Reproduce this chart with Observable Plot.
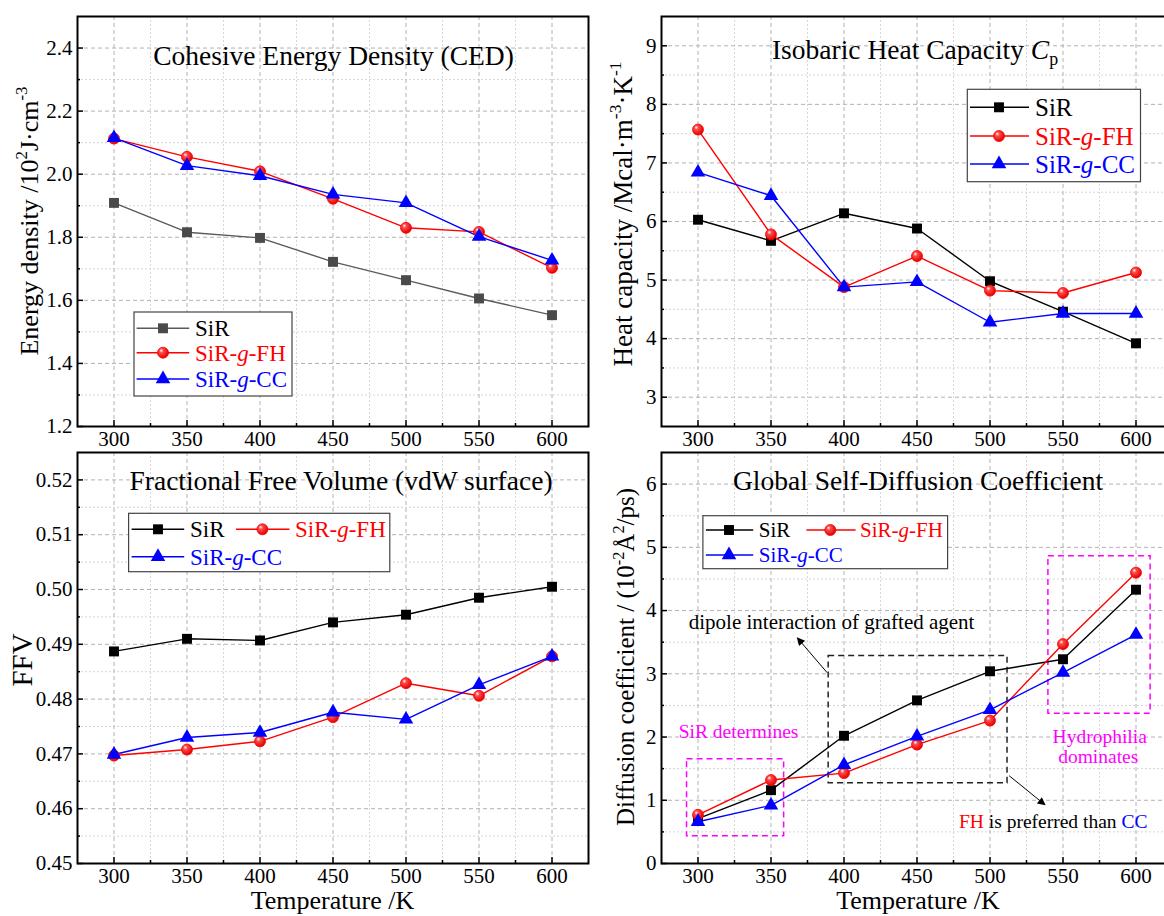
<!DOCTYPE html>
<html><head><meta charset="utf-8">
<script src="https://cdn.jsdelivr.net/npm/d3@7"></script>
<script src="https://cdn.jsdelivr.net/npm/@observablehq/plot@0.6"></script>
<style>
html,body{margin:0;padding:0;background:#fff;overflow:hidden;}
#root{position:relative;width:1164px;height:916px;overflow:hidden;background:#fff;}
</style></head><body>
<svg width="0" height="0" style="position:absolute"><defs>
<radialGradient id="shine" cx="0.4" cy="0.38" r="0.62" fx="0.34" fy="0.3">
<stop offset="0" stop-color="#ffffff"/><stop offset="0.3" stop-color="#ff4a4a"/><stop offset="1" stop-color="#e00000"/>
</radialGradient>
<marker id="ahead" viewBox="0 0 10 10" refX="9" refY="5" markerWidth="10" markerHeight="8" markerUnits="userSpaceOnUse" orient="auto">
<path d="M0,0 L10,5 L0,10 z" fill="#000"/></marker>
</defs></svg>
<div id="root"></div>
<script>
// ---------------- data ----------------
const temps = [300, 350, 400, 450, 500, 550, 600];
const seriesNames = ["SiR", "SiR-g-FH", "SiR-g-CC"];
const xTicks = [300, 350, 400, 450, 500, 550, 600];
const xMinor = [325, 375, 425, 475, 525, 575];

const cedSiR = [1.909, 1.816, 1.798, 1.722, 1.664, 1.606, 1.553];
const cedFH  = [2.113, 2.055, 2.009, 1.922, 1.830, 1.817, 1.703];
const cedCC  = [2.115, 2.027, 1.995, 1.936, 1.909, 1.802, 1.727];
const cedTicks = [1.2, 1.4, 1.6, 1.8, 2.0, 2.2, 2.4];
const cedMinor = [1.3, 1.5, 1.7, 1.9, 2.1, 2.3];

const cpSiR = [6.03, 5.67, 6.14, 5.88, 4.98, 4.46, 3.92];
const cpFH  = [7.57, 5.78, 4.88, 5.41, 4.82, 4.78, 5.13];
const cpCC  = [6.84, 6.44, 4.88, 4.97, 4.28, 4.43, 4.43];
const cpTicks = [3, 4, 5, 6, 7, 8, 9];
const cpMinor = [3.5, 4.5, 5.5, 6.5, 7.5, 8.5];

const ffvSiR = [0.4887, 0.4910, 0.4907, 0.4940, 0.4954, 0.4985, 0.5005];
const ffvFH  = [0.4697, 0.4708, 0.4723, 0.4767, 0.4829, 0.4806, 0.4878];
const ffvCC  = [0.4699, 0.4730, 0.4739, 0.4776, 0.4763, 0.4826, 0.4878];
const ffvTicks = [0.45, 0.46, 0.47, 0.48, 0.49, 0.50, 0.51, 0.52];
const ffvMinor = [0.455, 0.465, 0.475, 0.485, 0.495, 0.505, 0.515];

const difSiR = [0.71, 1.16, 2.02, 2.58, 3.04, 3.23, 4.33];
const difFH  = [0.77, 1.32, 1.43, 1.88, 2.26, 3.47, 4.60];
const difCC  = [0.66, 0.92, 1.56, 2.01, 2.43, 3.02, 3.62];
const difTicks = [0, 1, 2, 3, 4, 5, 6];
const difMinor = [0.5, 1.5, 2.5, 3.5, 4.5, 5.5];

// annotation regions (data coordinates of the diffusion panel)
const magentaBoxes = [{x1: 292.5, x2: 359, y1: 0.43, y2: 1.65}, {x1: 540, x2: 610, y1: 2.37, y2: 4.86}];
const blackBoxes = [{x1: 389.5, x2: 512, y1: 1.27, y2: 3.28}];
const arrows = [{x1: 388.8, y1: 3.01, x2: 368.4, y2: 3.56}, {x1: 513.5, y1: 1.38, x2: 538, y2: 0.92}];

// ---------------- helpers ----------------
const F = '"Liberation Serif","Times New Roman",serif';
const root = document.getElementById("root");
const rows = arr => temps.map((t, i) => ({T: t, v: arr[i]}));
const symbols = ["square", "circle", "triangle"];
const symR = [5.6, 5.5, 5.4];

function rich(svg, x, y, parts, {size, anchor = "middle", rotate = 0, fill = "#000", baseline = null} = {}) {
  const t = d3.select(svg).append("text")
    .attr("transform", `translate(${x},${y}) rotate(${rotate})`)
    .attr("text-anchor", anchor).attr("font-family", F).attr("font-size", size).attr("fill", fill);
  if (baseline) t.attr("dominant-baseline", baseline);
  let shift = 0;
  const list = typeof parts === "string" ? [{t: parts}] : parts;
  for (const p of list) {
    const ts = t.append("tspan").text(p.t);
    const target = p.sup ? -0.4 * size : p.sub ? 0.25 * size : 0;
    if (target !== shift) { ts.attr("dy", target - shift); shift = target; }
    if (p.sup || p.sub) ts.attr("font-size", size * 0.65);
    if (p.i) ts.attr("font-style", "italic");
    if (p.c) ts.attr("fill", p.c);
  }
  return t;
}

function labelParts(k) {
  if (k === 0) return [{t: "SiR"}];
  return [{t: "SiR-"}, {t: "g", i: true}, {t: k === 1 ? "-FH" : "-CC"}];
}

function makePanel(cfg) {
  const {left, top, height, mt, mb, yDomain, yTicks, yMinor, yFmt, data, colors, extra = []} = cfg;
  const gridMinor = {stroke: "#d6d6d6", strokeDasharray: "2,2", strokeOpacity: 1, strokeWidth: 1};
  const gridMajor = {stroke: "#b2b2b2", strokeDasharray: "4,3", strokeOpacity: 1, strokeWidth: 1};
  const marks = [
    Plot.gridX(xMinor, gridMinor),
    Plot.gridY(yMinor, gridMinor),
    Plot.gridX(xTicks, gridMajor),
    Plot.gridY(yTicks, gridMajor),
    ...extra
  ];
  data.forEach((arr, k) => marks.push(Plot.line(rows(arr), {x: "T", y: "v", stroke: colors[k].line, strokeWidth: 1.4})));
  data.forEach((arr, k) => marks.push(Plot.dot(rows(arr), {
    x: "T", y: "v", symbol: symbols[k], r: symR[k], fill: colors[k].fill,
    stroke: colors[k].stroke, strokeWidth: 0.8
  })));
  marks.push(
    Plot.axisX(xTicks, {tickSize: -6, fill: "none", strokeWidth: 1.5, label: null}),
    Plot.axisX(xMinor, {tickSize: -3, fill: "none", strokeWidth: 1.5, label: null}),
    Plot.axisX(xTicks, {tickSize: 0, tickPadding: 5, fontSize: 21, label: null}),
    Plot.axisY(yTicks, {tickSize: -6, fill: "none", strokeWidth: 1.5, label: null}),
    Plot.axisY(yMinor, {tickSize: -3, fill: "none", strokeWidth: 1.5, label: null}),
    Plot.axisY(yTicks, {tickSize: 0, tickPadding: 5, fontSize: 21, tickFormat: yFmt, label: null}),
    Plot.frame({stroke: "#000", strokeWidth: 2})
  );
  const svg = Plot.plot({
    width: 600, height, marginLeft: 77, marginRight: 12, marginTop: mt, marginBottom: mb,
    x: {domain: [275, 625]}, y: {domain: yDomain},
    style: {background: "transparent", overflow: "visible", fontFamily: F, color: "#000"},
    marks
  });
  svg.style.position = "absolute";
  svg.style.left = left + "px";
  svg.style.top = top + "px";
  root.appendChild(svg);
  return svg;
}

function drawLegend(svg, box, entries, colors, size) {
  const g = d3.select(svg).append("g");
  g.append("rect").attr("x", box[0]).attr("y", box[1]).attr("width", box[2] - box[0]).attr("height", box[3] - box[1])
    .attr("fill", "#fff").attr("stroke", "#444").attr("stroke-width", 1.2);
  const types = [d3.symbolSquare, d3.symbolCircle, d3.symbolTriangle];
  for (const e of entries) {
    const k = e.k;
    g.append("line").attr("x1", e.l1).attr("x2", e.l2).attr("y1", e.y).attr("y2", e.y)
      .attr("stroke", colors[k].line).attr("stroke-width", 1.4);
    g.append("path").attr("d", d3.symbol().type(types[k]).size(Math.PI * symR[k] * symR[k])())
      .attr("transform", `translate(${e.s},${e.y})`)
      .attr("fill", colors[k].fill).attr("stroke", colors[k].stroke === "none" ? null : colors[k].stroke)
      .attr("stroke-width", 0.8);
    rich(svg, e.t, e.y, labelParts(k), {size, anchor: "start", fill: colors[k].text, baseline: "central"});
  }
}

const stdColors = [
  {line: "#000", fill: "#000", stroke: "none", text: "#000"},
  {line: "#ff0000", fill: "url(#shine)", stroke: "#ff0000", text: "#ff0000"},
  {line: "#0000ff", fill: "#0000ff", stroke: "none", text: "#0000ff"}
];
const cedColors = [{line: "#5a5a5a", fill: "#4a4a4a", stroke: "none", text: "#000"}, stdColors[1], stdColors[2]];

// ---------------- panel 1: CED ----------------
const p1 = makePanel({left: 0, top: 0, height: 452, mt: 16, mb: 26, yDomain: [1.2, 2.5],
  yTicks: cedTicks, yMinor: cedMinor, yFmt: d3.format(".1f"), data: [cedSiR, cedFH, cedCC], colors: cedColors});
rich(p1, 333.5, 65, "Cohesive Energy Density (CED)", {size: 27.5});
rich(p1, 37.5, 221, [{t: "Energy density /10"}, {t: "2", sup: true}, {t: "J·cm"}, {t: "-3", sup: true}], {size: 26, rotate: -90});
drawLegend(p1, [134, 312, 292, 396], [
  {k: 0, y: 328.3, l1: 136.6, l2: 189.2, s: 163, t: 195},
  {k: 1, y: 352.7, l1: 136.6, l2: 189.2, s: 163, t: 195},
  {k: 2, y: 379, l1: 136.6, l2: 189.2, s: 163, t: 195}], cedColors, 23);

// ---------------- panel 2: Cp ----------------
const p2 = makePanel({left: 584, top: 0, height: 452, mt: 16, mb: 26, yDomain: [2.5, 9.5],
  yTicks: cpTicks, yMinor: cpMinor, yFmt: d3.format("d"), data: [cpSiR, cpFH, cpCC], colors: stdColors});
rich(p2, 331, 58.5, [{t: "Isobaric Heat Capacity "}, {t: "C", i: true}, {t: "p", sub: true}], {size: 27.5});
rich(p2, 48, 214, [{t: "Heat capacity /Mcal·m"}, {t: "-3", sup: true}, {t: "·K"}, {t: "-1", sup: true}], {size: 27, rotate: -90});
drawLegend(p2, [383.3, 89.3, 556.5, 181.7], [
  {k: 0, y: 107.3, l1: 386, l2: 445, s: 415, t: 451},
  {k: 1, y: 136, l1: 386, l2: 445, s: 415, t: 451},
  {k: 2, y: 164, l1: 386, l2: 445, s: 415, t: 451}], stdColors, 25);

// ---------------- panel 3: FFV ----------------
const p3 = makePanel({left: 0, top: 436, height: 460, mt: 16, mb: 33, yDomain: [0.45, 0.525],
  yTicks: ffvTicks, yMinor: ffvMinor, yFmt: d3.format(".2f"), data: [ffvSiR, ffvFH, ffvCC], colors: stdColors});
rich(p3, 341, 54, "Fractional Free Volume (vdW surface)", {size: 27.5});
rich(p3, 32, 224, "FFV", {size: 29, rotate: -90});
rich(p3, 332.5, 473, "Temperature /K", {size: 26});
drawLegend(p3, [128.6, 77.3, 389.8, 135.7], [
  {k: 0, y: 93.3, l1: 131.6, l2: 184.2, s: 158, t: 190},
  {k: 1, y: 93.3, l1: 236, l2: 289.5, s: 262.4, t: 295},
  {k: 2, y: 120.7, l1: 131.6, l2: 184.2, s: 158, t: 190}], stdColors, 23);

// ---------------- panel 4: Diffusion ----------------
const dash = {fill: "none", strokeDasharray: "6,4", strokeWidth: 1.5};
const p4 = makePanel({left: 584, top: 436, height: 460, mt: 16, mb: 33, yDomain: [0, 6.5],
  yTicks: difTicks, yMinor: difMinor, yFmt: d3.format("d"), data: [difSiR, difFH, difCC], colors: stdColors,
  extra: [
    Plot.rect(magentaBoxes, {x1: "x1", x2: "x2", y1: "y1", y2: "y2", stroke: "#ff00ff", ...dash}),
    Plot.rect(blackBoxes, {x1: "x1", x2: "x2", y1: "y1", y2: "y2", stroke: "#222", ...dash})
  ]});
{
  const sx = p4.scale("x"), sy = p4.scale("y");
  const X = v => sx.apply(v), Y = v => sy.apply(v);
  const g = d3.select(p4);
  for (const a of arrows) {
    g.append("line").attr("x1", X(a.x1)).attr("y1", Y(a.y1)).attr("x2", X(a.x2)).attr("y2", Y(a.y2))
      .attr("stroke", "#000").attr("stroke-width", 1).attr("marker-end", "url(#ahead)");
  }
  rich(p4, X(294), Y(3.81), "dipole interaction of grafted agent", {size: 21, anchor: "start", baseline: "central"});
  rich(p4, X(328.1), Y(2.085), "SiR determines", {size: 19.5, fill: "#ff00ff", baseline: "central"});
  rich(p4, X(575.5), Y(2.01), "Hydrophilia", {size: 19.5, fill: "#ff00ff", baseline: "central"});
  rich(p4, X(574.5), Y(1.69), "dominates", {size: 19.5, fill: "#ff00ff", baseline: "central"});
  rich(p4, X(608.2), Y(0.66), [{t: "FH", c: "#ff0000"}, {t: " is preferred than "}, {t: "CC", c: "#0000ff"}], {size: 19.5, anchor: "end", baseline: "central"});
}
rich(p4, 334, 54, "Global Self-Diffusion Coefficient", {size: 27.5});
rich(p4, 50, 221, [{t: "Diffusion coefficient / (10"}, {t: "-2", sup: true}, {t: "Å"}, {t: "2", sup: true}, {t: "/ps)"}], {size: 25, rotate: -90});
rich(p4, 334, 473, "Temperature /K", {size: 26});
drawLegend(p4, [118.9, 79.7, 363.6, 132.7], [
  {k: 0, y: 94, l1: 121.9, l2: 169.2, s: 145, t: 174.8},
  {k: 1, y: 94, l1: 222.4, l2: 271.6, s: 246.3, t: 276},
  {k: 2, y: 119, l1: 121.9, l2: 169.2, s: 145, t: 174.8}], stdColors, 21);
</script>
</body></html>
